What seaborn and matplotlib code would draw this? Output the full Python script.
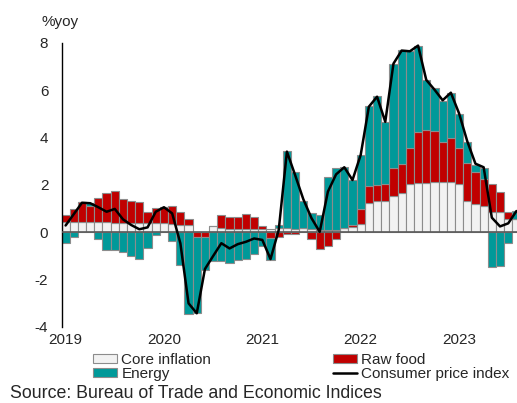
import numpy as np
import pandas as pd
import matplotlib
matplotlib.use("Agg")
import matplotlib.pyplot as plt
import seaborn as sns
from matplotlib.patches import Patch
from matplotlib.lines import Line2D

# monthly contributions, Jan 2019 - Aug 2023 (%yoy)
months = pd.date_range("2019-01-01", "2023-08-01", freq="MS")
core = [0.45, 0.45, 0.42, 0.42, 0.42, 0.42, 0.40, 0.40, 0.40, 0.40, 0.40, 0.40,
        0.38, 0.37, 0.33, 0.31, 0.02, 0.00, 0.28, 0.20, 0.15, 0.15, 0.13, 0.13,
        0.13, 0.13, 0.17, 0.17, 0.13, 0.20, 0.13, 0.10, 0.10, 0.10, 0.17, 0.21,
        0.34, 1.23, 1.34, 1.34, 1.52, 1.66, 2.06, 2.10, 2.10, 2.14, 2.14, 2.14,
        2.04, 1.32, 1.18, 1.11, 0.87, 0.87, 0.55, 0.55]
food = [0.28, 0.52, 0.85, 0.71, 1.04, 1.23, 1.36, 0.99, 0.94, 0.87, 0.47, 0.61,
        0.70, 0.76, 0.54, 0.24, -0.21, -0.21, 0.00, 0.53, 0.48, 0.51, 0.64, 0.50,
        0.15, -0.25, -0.21, -0.05, -0.08, 0.00, -0.30, -0.72, -0.58, -0.28, 0.00, 0.10,
        0.63, 0.73, 0.66, 0.72, 1.21, 1.21, 1.52, 2.15, 2.22, 2.14, 1.69, 1.86,
        1.51, 1.60, 1.38, 1.14, 1.16, 0.83, 0.32, 0.00]
energy = [-0.43, -0.21, 0.00, 0.10, -0.30, -0.76, -0.76, -0.84, -1.00, -1.13, -0.65, -0.12,
          0.00, -0.36, -1.36, -3.45, -3.20, -1.38, -1.21, -1.21, -1.31, -1.17, -1.12, -0.90,
          -0.58, -0.90, 0.12, 3.27, 2.41, 1.12, 0.67, 0.63, 2.25, 2.60, 2.60, 1.90,
          2.30, 3.38, 3.76, 2.59, 4.38, 4.83, 4.10, 3.64, 2.12, 1.80, 1.73, 1.90,
          1.45, 0.88, 0.29, 0.45, -1.45, -1.42, -0.46, 0.37]
cpi = [0.29, 0.77, 1.25, 1.23, 1.06, 0.87, 0.99, 0.55, 0.31, 0.13, 0.21, 0.87,
       1.06, 0.80, -0.46, -3.00, -3.42, -1.55, -1.00, -0.46, -0.68, -0.50, -0.40, -0.26,
       -0.32, -1.13, 0.10, 3.41, 2.42, 1.40, 0.60, 0.02, 1.72, 2.45, 2.75, 2.21,
       3.27, 5.31, 5.73, 4.67, 7.13, 7.68, 7.65, 7.89, 6.44, 6.03, 5.58, 5.90,
       5.03, 3.85, 2.90, 2.75, 0.62, 0.25, 0.38, 0.90]
year_labels = ["2019", "2020", "2021", "2022", "2023"]

sns.set_style("white")
plt.rcParams["font.family"] = ["Liberation Sans", "DejaVu Sans"]
plt.rcParams["axes.unicode_minus"] = False

core_col = "#f2f2f2"
food_col = "#c00000"
energy_col = "#009999"
edge_col = "#8c8c8c"

df = pd.DataFrame({"idx": np.arange(len(months)), "core": core, "food": food,
                   "energy": energy, "cpi": cpi})
n = len(df)

fig = plt.figure(figsize=(5.17, 4.03), dpi=100)
ax = fig.add_axes([61.5 / 517, 1 - 327 / 403, 1 - 61.5 / 517, 284 / 403])

# stack positives upward and negatives downward
pos = np.zeros(n)
neg = np.zeros(n)
for col, colour in [("core", core_col), ("food", food_col), ("energy", energy_col)]:
    vals = df[col].to_numpy()
    base = np.where(vals >= 0, pos, neg)
    sns.barplot(x=df["idx"], y=vals, bottom=base, color=colour, saturation=1,
                width=1.0, errorbar=None, edgecolor=edge_col, linewidth=0.8,
                ax=ax, zorder=2)
    pos = pos + np.clip(vals, 0, None)
    neg = neg + np.clip(vals, None, 0)

ax.axhline(0, color="#595959", lw=1.2, zorder=3)
sns.lineplot(x=df["idx"], y=df["cpi"], color="black", lw=1.8, ax=ax, zorder=4)

ax.set_xlim(-0.5, 55.07)
ax.set_ylim(-4, 8)
ax.set_xticks([0, 12, 24, 36, 48], year_labels)
ax.set_yticks(range(-4, 9, 2))
ax.tick_params(axis="y", length=0, labelsize=11, pad=9.5)
ax.tick_params(axis="x", length=0, labelsize=11, pad=4)
ax.set_xlabel("")
ax.set_ylabel("")
for s in ["top", "right", "bottom"]:
    ax.spines[s].set_visible(False)
ax.spines["left"].set_color("black")
ax.spines["left"].set_linewidth(1)

fig.text(42 / 517, 1 - 22 / 403, "%yoy", fontsize=11, va="center", ha="left")

handles = [Patch(facecolor=core_col, edgecolor=edge_col, lw=0.8),
           Patch(facecolor=energy_col, edgecolor=edge_col, lw=0.8),
           Patch(facecolor=food_col, edgecolor=edge_col, lw=0.8),
           Line2D([0], [0], color="black", lw=1.8)]
labels = ["Core inflation", "Energy", "Raw food", "Consumer price index"]
fig.legend(handles, labels, loc="upper left", bbox_to_anchor=(93 / 517, 1 - 353 / 403),
           ncol=2, frameon=False, fontsize=11, borderpad=0, borderaxespad=0,
           handlelength=1.6, handleheight=0.45, handletextpad=0.25,
           columnspacing=7.95, labelspacing=0.0)

fig.text(10 / 517, 0.5 / 403, "Source: Bureau of Trade and Economic Indices",
         fontsize=12.8, va="bottom", ha="left")

fig.savefig("out.png", dpi=100)
